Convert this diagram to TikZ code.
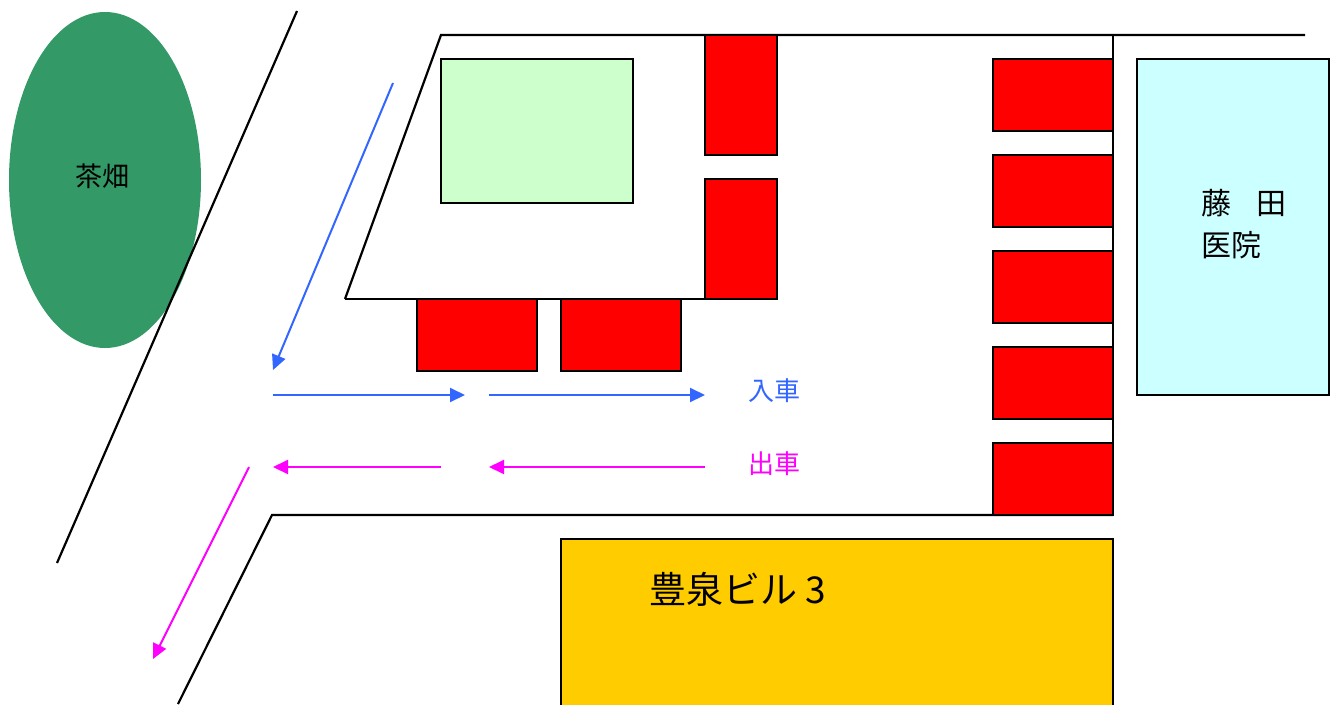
\documentclass[tikz,border=0pt]{standalone}
\usepackage{fontspec}
\setmainfont{Noto Sans CJK JP}
\usetikzlibrary{arrows.meta}
\definecolor{field}{HTML}{339966}
\definecolor{lawn}{HTML}{CCFFCC}
\definecolor{clinic}{HTML}{CCFFFF}
\definecolor{bldg}{HTML}{FFCC00}
\definecolor{inblue}{HTML}{3366FF}
\definecolor{outmag}{HTML}{FF00FF}
\tikzset{
  edge/.style={draw=black, line width=2.2pt},
  car/.style={draw=black, line width=2.2pt, fill=red},
  inarrow/.style={draw=inblue, line width=2pt, -{Triangle[length=15pt,width=14pt]}},
  outarrow/.style={draw=outmag, line width=2pt, -{Triangle[length=15pt,width=14pt]}},
  lbl/.style={inner sep=0pt, anchor=center},
}
\begin{document}
\begin{tikzpicture}[x=1pt,y=-1pt]
\useasboundingbox (0,0) rectangle (1340,704);
\fill[white] (0,0) rectangle (1340,704);
\begin{scope}
\clip (0,0) rectangle (1340,704);
% tea field
\fill[field] (105,180) ellipse [x radius=96, y radius=168];
\node[lbl, font=\fontsize{27}{30}\selectfont] (tea) at (102,176) {茶畑};
% road edge left
\draw[edge] (297,11) -- (57,563);
% lot outline
\draw[edge] (345,299) -- (441,35) -- (1305,35);
\draw[edge] (345,299) -- (705,299);
\draw[edge] (1113,35) -- (1113,515);
\draw[edge] (178,704) -- (272,515) -- (1113,515);
% lawn
\draw[edge, fill=lawn] (441,59) rectangle (633,203);
% cars top column
\draw[car] (705,35) rectangle (777,155);
\draw[car] (705,179) rectangle (777,299);
% cars bottom row
\draw[car] (417,299) rectangle (537,371);
\draw[car] (561,299) rectangle (681,371);
% cars right column
\foreach \y in {59,155,251,347,443}
  \draw[car] (993,\y) rectangle (1113,\y+72);
% clinic
\draw[edge, fill=clinic] (1137,59) rectangle (1329,395);
\node[lbl, anchor=west, font=\fontsize{30}{32}\selectfont] (clinicA) at (1201,203) {藤\hspace{25pt}田};
\node[lbl, anchor=west, font=\fontsize{30}{32}\selectfont] (clinicB) at (1201,245) {医院};
% building
\draw[edge, fill=bldg] (561,539) rectangle (1113,720);
\node[lbl, anchor=west, font=\fontsize{37}{40}\selectfont] (bldgname) at (649,589) {豊泉ビル 3};
% arrows in
\coordinate (i1) at (393,83);
\coordinate (i2) at (273,370);
\coordinate (i3) at (273,395);
\coordinate (i4) at (465,395);
\coordinate (i5) at (489,395);
\coordinate (i6) at (705,395);
\draw[inarrow] (i1) -- (i2);
\draw[inarrow] (i3) -- (i4);
\draw[inarrow] (i5) -- (i6);
\node[lbl, text=inblue, font=\fontsize{26}{28}\selectfont] (inlbl) at (774,391) {入車};
% arrows out
\coordinate (o1) at (705,467);
\coordinate (o2) at (489,467);
\coordinate (o3) at (441,467);
\coordinate (o4) at (273,467);
\coordinate (o5) at (249,467);
\coordinate (o6) at (153,659);
\draw[outarrow] (o1) -- (o2);
\draw[outarrow] (o3) -- (o4);
\draw[outarrow] (o5) -- (o6);
\node[lbl, text=outmag, font=\fontsize{26}{28}\selectfont] (outlbl) at (774,464) {出車};
\end{scope}
\end{tikzpicture}
\end{document}
